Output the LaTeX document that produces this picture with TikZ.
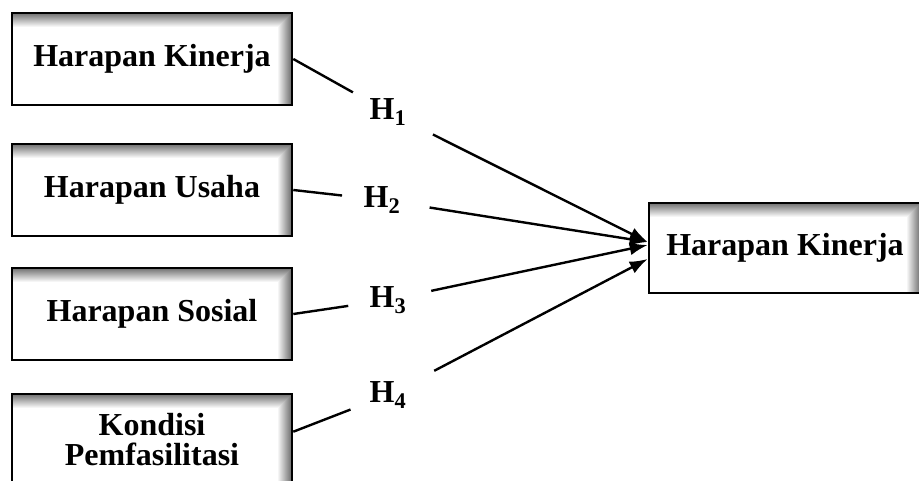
\documentclass[tikz,border=0pt]{standalone}
\usepackage{fontspec}
\setmainfont{Liberation Serif}
\usetikzlibrary{arrows.meta}

\tikzset{
  var/.style={draw, line width=2.6pt, minimum width=280pt, minimum height=92pt,
    align=center, inner sep=0pt,
    path picture={
      % inner shadow along top and right edge
      \foreach \d [evaluate=\d as \g using int((15-\d)*4)] in {14,13,...,1}{
        \fill[black!\g] (path picture bounding box.north west)
          rectangle ([yshift=-\d pt]path picture bounding box.north east);
        \fill[black!\g] ([xshift=-\d pt]path picture bounding box.north east)
          rectangle (path picture bounding box.south east);
      }
    }},
  hyp/.style={circle, minimum size=78pt, inner sep=0pt},
}

\begin{document}
\begin{tikzpicture}[x=1pt,y=-1pt,>={Latex[length=18pt,width=13pt]},
    line width=2.4pt,font=\fontsize{32}{30}\selectfont\bfseries]
  \useasboundingbox (0,0) rectangle (919,480);

  \node[var]  (b1) at (152,59)  {Harapan Kinerja};
  \node[var]  (b2) at (152,190) {Harapan Usaha};
  \node[var]  (b3) at (152,314) {Harapan Sosial};
  \node[var]  (b4) at (152,440) {Kondisi\\Pemfasilitasi};
  \node[var, minimum width=272pt, minimum height=90pt] (y) at (785,248) {Harapan Kinerja};

  \node[hyp] (h1) at (388,112) {H\textsubscript{1}};
  \node[hyp] (h2) at (382,200) {H\textsubscript{2}};
  \node[hyp] (h3) at (388,300) {H\textsubscript{3}};
  \node[hyp] (h4) at (388,395) {H\textsubscript{4}};

  \draw (b1.east) -- (h1);
  \draw (b2.east) -- (h2);
  \draw (b3.east) -- (h3);
  \draw ([yshift=-39pt]b4.north east) -- (h4);

  \draw[->, shorten <=10pt] (h1) -- ([yshift=6pt]y.west);
  \draw[->, shorten <=8pt]  (h2) -- ([yshift=6pt]y.west);
  \draw[->, shorten <=4pt]  (h3) -- ([yshift=3pt]y.west);
  \draw[->, shorten <=12pt] (h4) -- ([yshift=-11pt]y.west);
\end{tikzpicture}
\end{document}
